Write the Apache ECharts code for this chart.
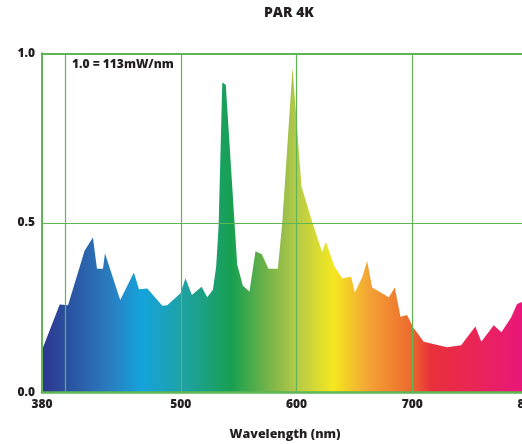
<!DOCTYPE html>
<html>
<head>
<meta charset="utf-8">
<script src="https://cdn.jsdelivr.net/npm/echarts@6/dist/echarts.min.js"></script>
<style>
html,body{margin:0;padding:0;background:#fff;}
#c{width:522px;height:444px;}
</style>
</head>
<body>
<div id="c"></div>
<script>
// Wavelength (nm) and relative intensity
const wavelengths = [380, 395.3, 402.5, 416.8, 424, 427.5, 432.7, 434.4, 447.6, 459.4, 463.8, 471, 484, 488.2, 499.7, 504, 509.5, 517.9, 522.8, 527.7, 530.5, 532.6, 535.8, 538.8, 548.7, 553.6, 559.3, 564.5, 570, 575.7, 583.8, 587.6, 596.5, 604.3, 613.5, 622.1, 625.3, 632.8, 639.4, 647.2, 650.3, 656.7, 661, 665.3, 679.7, 684.9, 689.8, 695.5, 700.7, 709.9, 730, 742.2, 754.5, 759.7, 770.4, 777, 785.3, 790.5, 795.1, 800];
const intensity = [0.126, 0.260, 0.258, 0.418, 0.457, 0.365, 0.365, 0.411, 0.273, 0.354, 0.305, 0.307, 0.256, 0.258, 0.293, 0.337, 0.288, 0.312, 0.281, 0.303, 0.371, 0.489, 0.914, 0.907, 0.378, 0.315, 0.298, 0.417, 0.408, 0.365, 0.365, 0.499, 0.958, 0.607, 0.504, 0.414, 0.445, 0.371, 0.337, 0.342, 0.295, 0.340, 0.388, 0.310, 0.281, 0.310, 0.224, 0.229, 0.193, 0.150, 0.134, 0.140, 0.195, 0.150, 0.199, 0.178, 0.221, 0.261, 0.268, 0.272];
const xTickLabels = [380, 500, 600, 700, 800];
const xGridLines = [400, 500, 600, 700];
const yGridLines = [0.5, 1.0];
const titleText = 'PAR 4K';
const noteText = '1.0 = 113mW/nm';
const xAxisName = 'Wavelength (nm)';

const GREEN = '#5db554';
const FONT = '"Open Sans", "Noto Sans", sans-serif';

const spectrumStops = [
  [0.00, '#2e3590'],
  [0.05, '#2b4f9f'],
  [0.14, '#2a7dbf'],
  [0.205, '#14a3dc'],
  [0.29, '#1fa1a5'],
  [0.39, '#17a050'],
  [0.47, '#7ab548'],
  [0.52, '#b2c84a'],
  [0.60, '#f5e81f'],
  [0.67, '#f3a535'],
  [0.76, '#ed6a2e'],
  [0.80, '#e8303a'],
  [0.90, '#e9245a'],
  [1.00, '#e9157f']
];

const chart = echarts.init(document.getElementById('c'), null, {renderer: 'canvas'});
chart.setOption({
  animation: false,
  backgroundColor: '#ffffff',
  title: {
    text: titleText,
    left: 284, top: 1,
    textAlign: 'center',
    textStyle: {fontFamily: FONT, fontWeight: 800, fontSize: 14, color: '#231f20'}
  },
  grid: {left: 42, right: -6, top: 53.3, bottom: 51.3, containLabel: false, outerBoundsMode: 'none'},
  xAxis: {
    type: 'value', min: 380, max: 800, z: 10,
    name: xAxisName, nameLocation: 'middle', nameGap: 35,
    nameTextStyle: {fontFamily: FONT, fontWeight: 800, fontSize: 12.5, color: '#231f20'},
    axisLine: {show: true, lineStyle: {color: GREEN, width: 2.5}},
    axisTick: {show: false},
    splitLine: {show: false},
    axisLabel: {
      customValues: xTickLabels, showMinLabel: true, showMaxLabel: true,
      fontFamily: FONT, fontWeight: 800, fontSize: 12, color: '#231f20', margin: 6,
      formatter: v => String(v)
    }
  },
  yAxis: {
    type: 'value', min: 0, max: 1, interval: 0.5, z: 10,
    axisLine: {show: true, lineStyle: {color: GREEN, width: 2}},
    axisTick: {show: false},
    splitLine: {show: false},
    axisLabel: {
      fontFamily: FONT, fontWeight: 800, fontSize: 12, color: '#231f20', margin: 7,
      formatter: v => v.toFixed(1)
    }
  },
  graphic: [{
    type: 'text', left: 72, top: 59, z: 20,
    style: {text: noteText, fontFamily: FONT, fontWeight: 800, fontSize: 12, fill: '#231f20'}
  }],
  series: [{
    type: 'line',
    data: wavelengths.map((w, i) => [w, intensity[i]]),
    symbol: 'none',
    lineStyle: {width: 0},
    clip: true,
    areaStyle: {
      opacity: 1,
      color: new echarts.graphic.LinearGradient(0, 0, 1, 0,
        spectrumStops.map(s => ({offset: s[0], color: s[1]})))
    },
    markLine: {
      silent: true, symbol: 'none', animation: false,
      label: {show: false},
      data: xGridLines.map(x => ({xAxis: x, lineStyle: {color: GREEN, width: 1.2, type: 'solid'}}))
        .concat(yGridLines.map(y => ({yAxis: y, lineStyle: {color: GREEN, width: y === 1 ? 2 : 1.2, type: 'solid'}})))
    }
  }]
});
</script>
</body>
</html>
